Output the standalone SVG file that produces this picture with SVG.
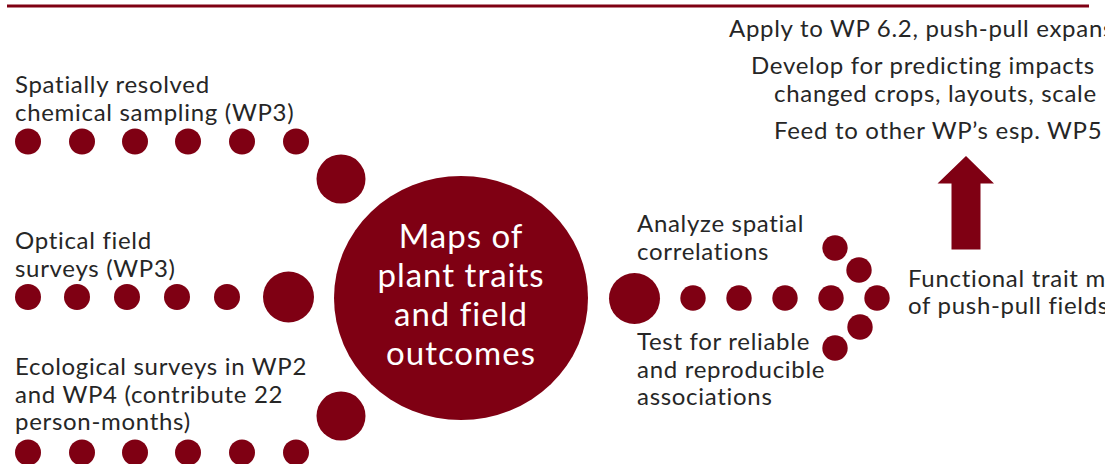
<svg xmlns="http://www.w3.org/2000/svg" width="1105" height="464" viewBox="0 0 1105 464">
<style>
.d{fill:#7F0013}
.t{font-family:Lato,"Liberation Sans",sans-serif;font-size:24px;letter-spacing:0.7px;fill:#262626}
.w{font-family:Lato,"Liberation Sans",sans-serif;font-size:33px;letter-spacing:1px;fill:#ffffff;text-anchor:middle}
</style>
<rect x="7" y="4.5" width="1082" height="3" class="d"/>
<g id="connectors">
<g id="row1">
<circle class="d" cx="28" cy="141.5" r="13"/><circle class="d" cx="82" cy="141.5" r="13"/><circle class="d" cx="135" cy="141.5" r="13"/><circle class="d" cx="188" cy="141.5" r="13"/><circle class="d" cx="242" cy="141.5" r="13"/><circle class="d" cx="296" cy="141.5" r="13"/>
<circle class="d" cx="341" cy="179" r="24.5"/>
</g>
<g id="row2">
<circle class="d" cx="28" cy="297" r="13"/><circle class="d" cx="77" cy="297" r="13"/><circle class="d" cx="127" cy="297" r="13"/><circle class="d" cx="177" cy="297" r="13"/><circle class="d" cx="227" cy="297" r="13"/>
<circle class="d" cx="288.5" cy="297" r="25.5"/>
</g>
<g id="row3">
<circle class="d" cx="28" cy="452.5" r="13"/><circle class="d" cx="82" cy="452.5" r="13"/><circle class="d" cx="135" cy="452.5" r="13"/><circle class="d" cx="188" cy="452.5" r="13"/><circle class="d" cx="242" cy="452.5" r="13"/><circle class="d" cx="296" cy="452.5" r="13"/>
<circle class="d" cx="341" cy="416" r="24.5"/>
</g>
<g id="out">
<circle class="d" cx="634.5" cy="298.5" r="25.5"/>
<circle class="d" cx="693" cy="298" r="12.7"/><circle class="d" cx="739" cy="298" r="12.7"/><circle class="d" cx="785" cy="298" r="12.7"/><circle class="d" cx="831" cy="298" r="12.7"/><circle class="d" cx="877" cy="298" r="12.7"/>
<circle class="d" cx="835" cy="248" r="12.7"/><circle class="d" cx="859" cy="270" r="12.7"/>
<circle class="d" cx="860" cy="327" r="12.7"/><circle class="d" cx="835" cy="348" r="12.7"/>
</g>
<polygon id="uparrow" class="d" points="966,156 994,183.5 980.5,183.5 980.5,249.5 951.5,249.5 951.5,183.5 937.5,183.5"/>
</g>
<g id="n-center">
<ellipse class="d" cx="461" cy="298" rx="127" ry="122"/>
<text class="w" x="461"><tspan x="461" y="248">Maps of</tspan><tspan x="461" y="287">plant traits</tspan><tspan x="461" y="326">and field</tspan><tspan x="461" y="365">outcomes</tspan></text>
</g>
<g id="n-chem">
<text class="t"><tspan x="15" y="93">Spatially resolved</tspan><tspan x="15" y="121">chemical sampling (WP3)</tspan></text>
</g>
<g id="n-optical">
<text class="t"><tspan x="15" y="249">Optical field</tspan><tspan x="15" y="277">surveys (WP3)</tspan></text>
</g>
<g id="n-eco">
<text class="t"><tspan x="15" y="375">Ecological surveys in WP2</tspan><tspan x="15" y="403">and WP4 (contribute 22</tspan><tspan x="15" y="430">person-months)</tspan></text>
</g>
<g id="n-analyze">
<text class="t"><tspan x="637" y="232">Analyze spatial</tspan><tspan x="637" y="260">correlations</tspan></text>
</g>
<g id="n-test">
<text class="t"><tspan x="637" y="350">Test for reliable</tspan><tspan x="637" y="378">and reproducible</tspan><tspan x="637" y="405">associations</tspan></text>
</g>
<g id="n-functional">
<text class="t"><tspan x="908" y="287">Functional trait m</tspan><tspan x="908" y="314">of push-pull fields</tspan></text>
</g>
<g id="n-apply">
<text class="t"><tspan x="729" y="37">Apply to WP 6.2, push-pull expans</tspan></text>
</g>
<g id="n-develop">
<text class="t"><tspan x="751" y="74">Develop for predicting impacts</tspan><tspan x="774" y="101.5">changed crops, layouts, scale</tspan></text>
</g>
<g id="n-feed">
<text class="t"><tspan x="774" y="139">Feed to other WP’s esp. WP5</tspan></text>
</g>
</svg>
